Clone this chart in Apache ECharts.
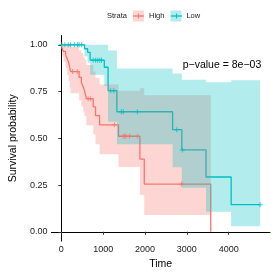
<!DOCTYPE html>
<html>
<head>
<meta charset="utf-8">
<script src="https://cdn.jsdelivr.net/npm/echarts@6/dist/echarts.min.js"></script>
<style>html,body{margin:0;padding:0;background:#fff}#c{width:275px;height:275px}</style>
</head>
<body>
<div id="c"></div>
<script>
// ---- data ----
const highTime  = [0, 20, 50, 100, 140, 176, 200, 221, 424, 478, 524, 553, 598, 763, 817, 914, 1366, 1878, 1982, 3571];
const highSurv  = [1, 0.979, 0.965, 0.948, 0.925, 0.904, 0.878, 0.857, 0.826, 0.80, 0.773, 0.755, 0.712, 0.668, 0.621, 0.572, 0.511, 0.389, 0.255, 0];
const highUpper = [1, 1, 1, 1, 1, 1, 0.999, 0.99, 0.97, 0.955, 0.935, 0.922, 0.892, 0.858, 0.823, 0.788, 0.755, 0.768, 0.73, null];
const highLower = [1, 0.938, 0.91, 0.876, 0.838, 0.807, 0.772, 0.741, 0.702, 0.67, 0.64, 0.618, 0.568, 0.52, 0.468, 0.415, 0.346, 0.197, 0.089, null];
const highCensorTime = [270, 380, 640, 700, 1268, 1480, 1517, 1546, 1630, 1817, 2871];
const highCensorSurv = [0.857, 0.857, 0.712, 0.712, 0.572, 0.511, 0.511, 0.511, 0.511, 0.511, 0.255];

const lowTime  = [0, 553, 628, 688, 1027, 1117, 1327, 2659, 2880, 3458, 4059, 4752];
const lowSurv  = [1, 0.979, 0.96, 0.918, 0.88, 0.755, 0.642, 0.546, 0.438, 0.293, 0.145, 0.145];
const lowUpper = [1, 1, 1, 1, 1, 0.97, 0.873, 0.847, 0.813, 0.80, 0.81, 0.81];
const lowLower = [1, 0.938, 0.905, 0.84, 0.78, 0.588, 0.468, 0.345, 0.236, 0.107, 0.029, 0.029];
const lowCensorTime = [11, 86, 163, 221, 312, 388, 424, 485, 760, 820, 870, 920, 960, 1178, 1253, 1433, 1479, 1817, 2758, 2894, 4752];
const lowCensorSurv = [1, 1, 1, 1, 1, 1, 1, 1, 0.918, 0.918, 0.918, 0.918, 0.918, 0.755, 0.755, 0.642, 0.642, 0.642, 0.546, 0.438, 0.145];

const xTicks = [0, 1000, 2000, 3000, 4000];
const yTicks = [0, 0.25, 0.5, 0.75, 1];
const strataNames = ['High', 'Low'];
const pValueText = 'p\u2212value = 8e\u221203';

// ---- chart ----
const RED = '#F8766D', TEAL = '#00BFC4';
const RED_A = 'rgba(248,118,109,0.3)', TEAL_A = 'rgba(0,191,196,0.3)';
const FONT = 'Liberation Sans';
const zip = (a, b) => a.map((v, i) => [v, b[i]]);
const crossPath = 'path://M-0.2,-1 L0.2,-1 L0.2,1 L-0.2,1 Z M-1,-0.2 L1,-0.2 L1,0.2 L-1,0.2 Z';

function bandSeries(name, times, lo, hi, color) {
  const rows = times.map((t, i) => [t, lo[i], hi[i]]);
  return {
    type: 'custom', name: name, z: 3, silent: true,
    data: rows, encode: { x: 0, y: [1, 2] },
    renderItem: function (params, api) {
      if (params.dataIndex !== 0) return null;
      const top = [], bot = [];
      for (let i = 0; i < times.length - 1; i++) {
        top.push(api.coord([times[i], hi[i]]), api.coord([times[i + 1], hi[i]]));
        bot.push(api.coord([times[i], lo[i]]), api.coord([times[i + 1], lo[i]]));
      }
      return { type: 'polygon', shape: { points: top.concat(bot.reverse()) }, style: { fill: color } };
    }
  };
}
function lineSeries(name, t, s, color) {
  return { type: 'line', name: name, step: 'end', data: zip(t, s), showSymbol: false, z: 2,
    lineStyle: { color: color, width: 1.3 }, itemStyle: { color: color }, silent: true };
}
function censorSeries(name, t, s, color) {
  return { type: 'scatter', name: name, data: zip(t, s), symbol: crossPath, symbolSize: 5, z: 4,
    itemStyle: { color: color }, silent: true };
}

// legend key overlay (line + cross drawn on top of each legend box)
const keyEls = [];
[[133, RED], [171, TEAL]].forEach(k => {
  const x0 = k[0], cy = 16, c = k[1];
  keyEls.push({ type: 'line', shape: { x1: x0, y1: cy, x2: x0 + 11, y2: cy }, style: { stroke: c, lineWidth: 1.3 }, z: 100 });
  keyEls.push({ type: 'line', shape: { x1: x0 + 5.5, y1: cy - 2.5, x2: x0 + 5.5, y2: cy + 2.5 }, style: { stroke: c, lineWidth: 1 }, z: 100 });
});

const chart = echarts.init(document.getElementById('c'), null, { renderer: 'canvas' });
chart.setOption({
  animation: false,
  backgroundColor: '#fff',
  textStyle: { fontFamily: FONT },
  grid: { left: 39, right: 5, top: 35.5, bottom: 29.4 },
  legend: {
    left: 133, top: 10.5, padding: 0, itemWidth: 11, itemHeight: 11, itemGap: 6,
    selectedMode: false,
    textStyle: { fontSize: 7.5, color: '#1a1a1a', fontFamily: FONT },
    data: [
      { name: strataNames[0], icon: 'rect', itemStyle: { color: RED_A } },
      { name: strataNames[1], icon: 'rect', itemStyle: { color: TEAL_A } }
    ]
  },
  xAxis: {
    type: 'value', min: -237.5, max: 4987.5,
    name: 'Time', nameLocation: 'middle', nameGap: 14,
    nameTextStyle: { fontSize: 10.5, color: '#000', fontFamily: FONT },
    axisLine: { show: true, lineStyle: { color: '#000', width: 1 } },
    axisTick: { show: true, length: 3, customValues: xTicks, lineStyle: { color: '#333' } },
    axisLabel: { customValues: xTicks, fontSize: 9, color: '#1a1a1a', margin: 4, fontFamily: FONT,
      formatter: v => String(Math.round(v)) },
    splitLine: { show: false }
  },
  yAxis: {
    type: 'value', min: -0.05, max: 1.05,
    name: 'Survival probability', nameLocation: 'middle', nameGap: 24,
    nameTextStyle: { fontSize: 10.5, color: '#000', fontFamily: FONT },
    axisLine: { show: true, lineStyle: { color: '#000', width: 1 } },
    axisTick: { show: true, length: 3, customValues: yTicks, lineStyle: { color: '#333' } },
    axisLabel: { customValues: yTicks, fontSize: 9, color: '#1a1a1a', margin: 4, fontFamily: FONT,
      formatter: v => Number(v).toFixed(2) },
    splitLine: { show: false }
  },
  graphic: [
    { type: 'text', left: 107, top: 11.5, style: { text: 'Strata', fontSize: 7.5, fill: '#1a1a1a', fontFamily: FONT } },
    { type: 'text', left: 182.7, top: 59.5, style: { text: pValueText, fontSize: 10.5, fill: '#000', fontFamily: FONT } }
  ].concat(keyEls),
  series: [
    lineSeries(strataNames[0], highTime, highSurv, RED),
    lineSeries(strataNames[1], lowTime, lowSurv, TEAL),
    bandSeries(strataNames[0], highTime, highLower, highUpper, RED_A),
    bandSeries(strataNames[1], lowTime, lowLower, lowUpper, TEAL_A),
    censorSeries(strataNames[0], highCensorTime, highCensorSurv, RED),
    censorSeries(strataNames[1], lowCensorTime, lowCensorSurv, TEAL)
  ]
});
</script>
</body>
</html>
